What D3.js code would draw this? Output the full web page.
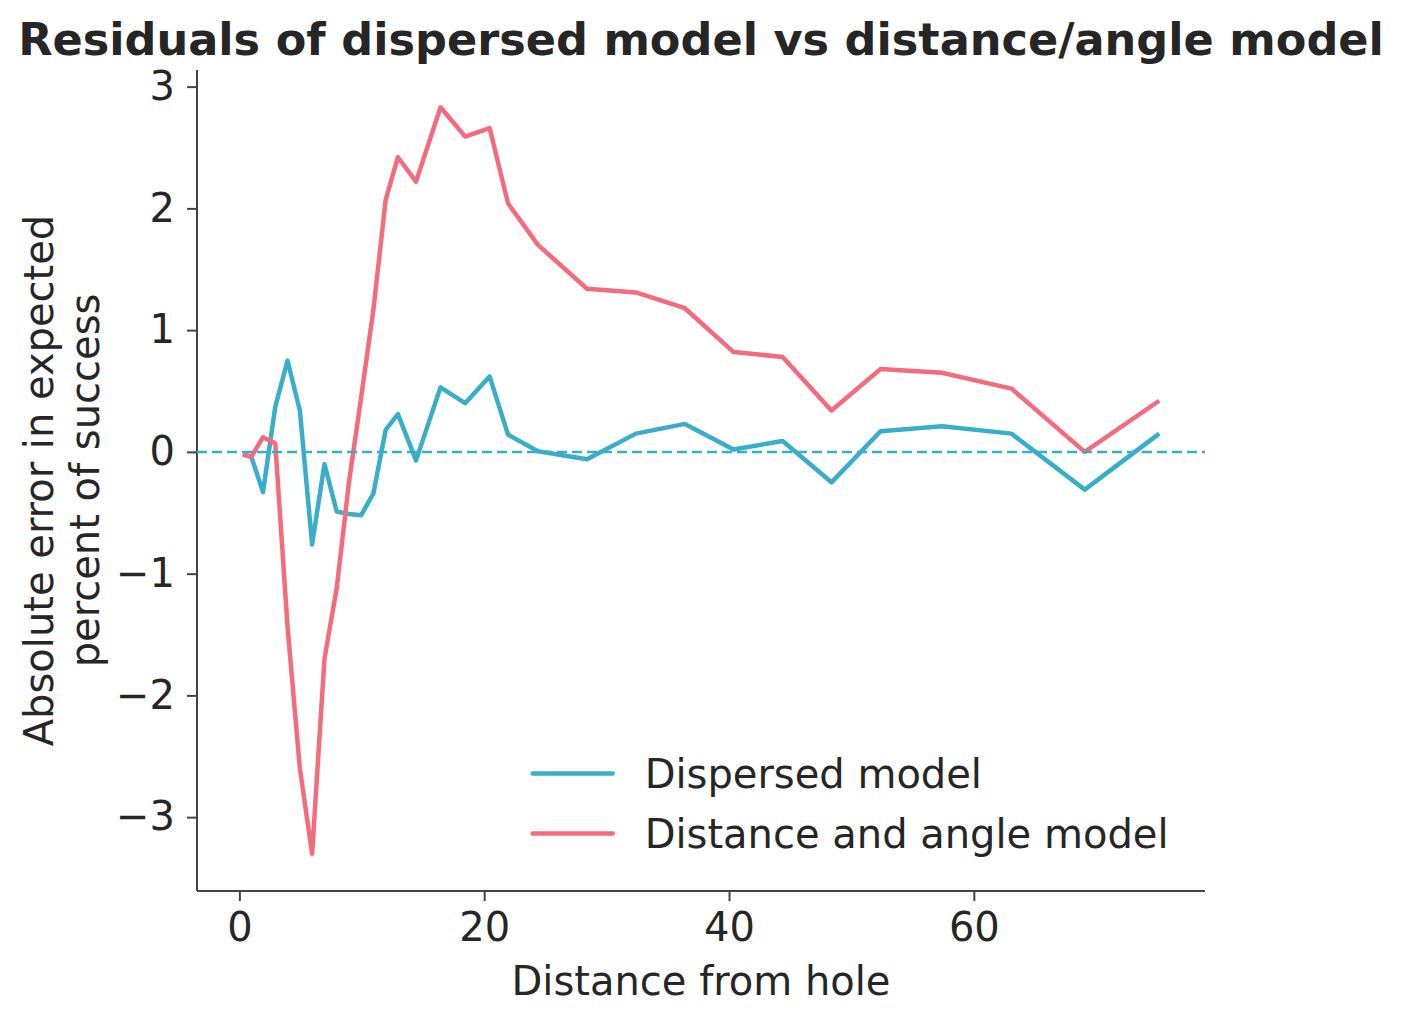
<!DOCTYPE html>
<html>
<head>
<meta charset="utf-8">
<script src="https://cdn.jsdelivr.net/npm/d3@7"></script>
<style>
  body { margin: 0; background: #fff; }
  text { font-family: "DejaVu Sans", sans-serif; fill: #262626; }
</style>
</head>
<body>
<div id="chart"></div>
<script>
// distance from hole (feet)
const distances = [0.28, 0.97, 1.93, 2.93, 3.93, 4.94, 5.94, 6.95, 7.95, 8.95, 9.95, 10.95, 11.95, 12.95, 14.43, 16.43,
  18.44, 20.44, 21.95, 24.39, 28.40, 32.39, 36.39, 40.37, 44.38, 48.37, 52.38, 57.39, 63.07, 69.06, 75.14];
// residuals, dispersed model
const dispersedResid = [-0.02, -0.04, -0.33, 0.37, 0.75, 0.34, -0.76, -0.10, -0.49, -0.51, -0.52, -0.34, 0.18, 0.31, -0.07, 0.53,
  0.40, 0.62, 0.14, 0.005, -0.06, 0.15, 0.23, 0.02, 0.09, -0.25, 0.17, 0.21, 0.15, -0.31, 0.15];
// residuals, distance + angle model
const angleResid = [-0.02, -0.04, 0.12, 0.07, -1.43, -2.60, -3.30, -1.70, -1.12, -0.25, 0.45, 1.17, 2.07, 2.42, 2.22, 2.83,
  2.59, 2.66, 2.04, 1.70, 1.34, 1.31, 1.18, 0.82, 0.78, 0.34, 0.68, 0.65, 0.52, 0.00, 0.42];
const seriesNames = ["Dispersed model", "Distance and angle model"];
const xTicks = [0, 20, 40, 60];
const yTicks = [-3, -2, -1, 0, 1, 2, 3];

const W = 1401, H = 1023;
const margin = { top: 70, right: 196, bottom: 132, left: 197 };
const width = W - margin.left - margin.right;
const height = H - margin.top - margin.bottom;
const blue = "#38aecb", pink = "#f56b7e";
const fontSize = 40;

let svg = d3.select("#chart").append("svg")
  .attr("width", W)
  .attr("height", H);

let chart = svg.append("g")
  .attr("transform", `translate(${margin.left}, ${margin.top})`);

// matplotlib-ish 5% padding
const pad = (ext) => { let d = (ext[1] - ext[0]) * 0.05; return [ext[0] - d, ext[1] + d]; };
let xScale = d3.scaleLinear().domain(pad(d3.extent(distances))).range([0, width]);
let yScale = d3.scaleLinear()
  .domain(pad(d3.extent(dispersedResid.concat(angleResid))))
  .range([height, 0]);

/////////////////////////////
let xAxis = chart.append("g")
  .attr("transform", `translate(0, ${height})`)
  .call(d3.axisBottom(xScale).tickValues(xTicks).tickSize(10).tickPadding(12).tickFormat(d3.format("d")));
let yAxis = chart.append("g")
  .call(d3.axisLeft(yScale).tickValues(yTicks).tickSize(10).tickPadding(12)
    .tickFormat(d => d < 0 ? "\u2212" + Math.abs(d) : d));

[xAxis, yAxis].forEach(a => {
  a.select(".domain").attr("stroke", "#444").attr("stroke-width", 2);
  a.selectAll(".tick line").attr("stroke", "#444").attr("stroke-width", 2);
  a.selectAll(".tick text").attr("font-size", fontSize).attr("fill", "#262626");
});
// spines without outer ticks
xAxis.select(".domain").attr("d", `M0,0H${width}`);
yAxis.select(".domain").attr("d", `M0,0V${height}`);

/////////////////////////////
let line = d3.line().x(d => xScale(d[0])).y(d => yScale(d[1]));
let series = [dispersedResid, angleResid].map(vals => distances.map((x, i) => [x, vals[i]]));
const colors = [blue, pink];

chart.selectAll("path.series").data(series)
  .join("path")
  .attr("class", "series")
  .attr("fill", "none")
  .attr("stroke", (d, i) => colors[i])
  .attr("stroke-width", 4.5)
  .attr("stroke-linejoin", "round")
  .attr("d", line);

// zero reference
chart.append("line")
  .attr("x1", 0).attr("x2", width)
  .attr("y1", yScale(0)).attr("y2", yScale(0))
  .attr("stroke", blue)
  .attr("stroke-width", 2.5)
  .attr("stroke-dasharray", "10,5");

/////////////////////////////
let legend = chart.append("g")
  .attr("transform", `translate(${width * 0.333}, ${height * 0.857})`);
let items = legend.selectAll("g").data(seriesNames).join("g")
  .attr("transform", (d, i) => `translate(0, ${i * 60})`);
items.append("line")
  .attr("x1", 0).attr("x2", 80)
  .attr("stroke", (d, i) => colors[i])
  .attr("stroke-width", 4.5)
  .attr("stroke-linecap", "round");
items.append("text")
  .attr("x", 112)
  .attr("dy", "0.35em")
  .attr("font-size", fontSize)
  .text(d => d);

/////////////////////////////
svg.append("text")
  .attr("x", margin.left + width / 2)
  .attr("y", 55)
  .attr("text-anchor", "middle")
  .attr("font-size", 44.6)
  .attr("font-weight", "bold")
  .text("Residuals of dispersed model vs distance/angle model");

svg.append("text")
  .attr("x", margin.left + width / 2)
  .attr("y", 995)
  .attr("text-anchor", "middle")
  .attr("font-size", fontSize)
  .text("Distance from hole");

let yl = svg.append("text")
  .attr("transform", `translate(53, ${margin.top + height / 2}) rotate(-90)`)
  .attr("text-anchor", "middle")
  .attr("font-size", fontSize);
yl.append("tspan").attr("x", 0).attr("y", 0).text("Absolute error in expected");
yl.append("tspan").attr("x", 0).attr("y", 46).text("percent of success");
</script>
</body>
</html>
